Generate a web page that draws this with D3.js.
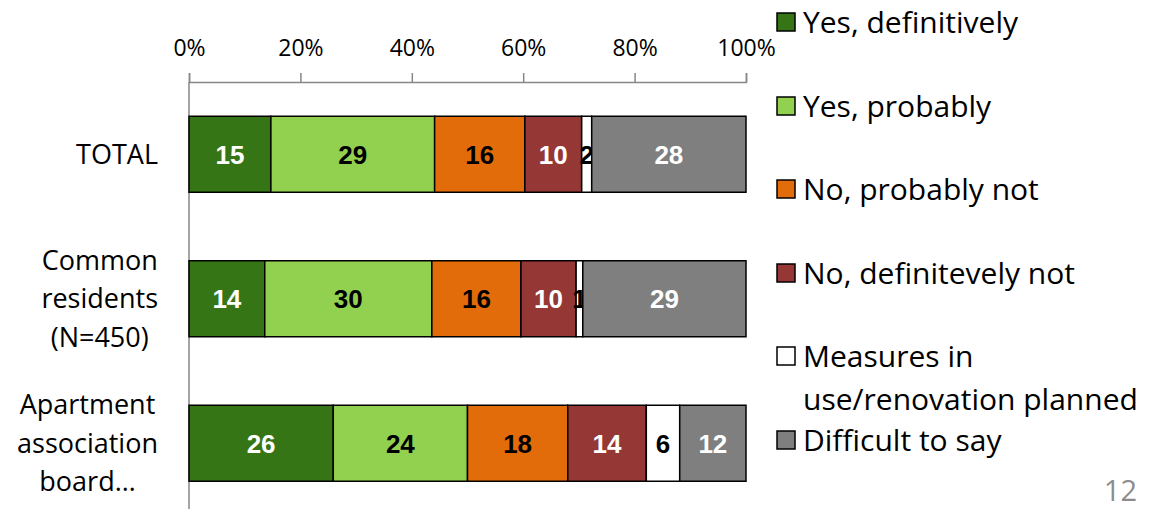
<!DOCTYPE html>
<html>
<head>
<meta charset="utf-8">
<script src="https://cdn.jsdelivr.net/npm/d3@7"></script>
<style>
  body { margin: 0; background: #fff; }
  svg { display: block; }
  .tick text { font-family: "Open Sans", sans-serif; }
</style>
</head>
<body>
<script>
// categories (rows), drawn top to bottom
var categories = ["TOTAL", "Common residents (N=450)", "Apartment association board…"];
var categoryLines = [["TOTAL"], ["Common", "residents", "(N=450)"], ["Apartment", "association", "board…"]];

// answer series, in stacking order
var seriesNames = ["Yes, definitively", "Yes, probably", "No, probably not",
                   "No, definitevely not", "Measures in use/renovation planned", "Difficult to say"];
var seriesColors = ["#367516", "#92d050", "#e36c0a", "#953735", "#ffffff", "#7f7f7f"];
var labelColors = ["#fff", "#000", "#000", "#fff", "#000", "#fff"];

// values per series (%), one per category; labels show them rounded
var yesDef    = [14.7, 13.6, 25.9];
var yesProb   = [29.4, 30.0, 24.1];
var noProb    = [16.2, 16.0, 18.0];
var noDef     = [10.2,  9.9, 14.1];
var measures  = [ 1.8,  1.2,  6.0];
var difficult = [27.7, 29.3, 11.9];
var seriesValues = [yesDef, yesProb, noProb, noDef, measures, difficult];

var tickValues = [0, 20, 40, 60, 80, 100];

var width = 1157, height = 509;

var svg = d3.select("body").append("svg")
    .attr("width", width)
    .attr("height", height);

var x = d3.scaleLinear().domain([0, 100]).range([189, 746]);
var y = d3.scaleBand().domain(categories).range([82, 515.5])
    .paddingInner(0.474).paddingOuter(0.237);

// build stacked rows from the arrays
var rows = categories.map(function(c, i) {
  var row = { cat: c };
  seriesNames.forEach(function(s, j) { row[s] = seriesValues[j][i]; });
  return row;
});
var stacked = d3.stack().keys(seriesNames)(rows);

// top axis
var xAxis = svg.append("g")
    .attr("transform", "translate(0,82)")
    .call(d3.axisTop(x).tickValues(tickValues).tickSize(9).tickPadding(17)
      .tickFormat(function(d) { return d + "%"; }));
xAxis.select(".domain").attr("stroke", "#878787").attr("stroke-width", 1.5);
xAxis.selectAll(".tick line").attr("stroke", "#878787").attr("stroke-width", 1.5);
xAxis.selectAll(".tick text").attr("font-size", 23).attr("fill", "#000");

// vertical axis line
svg.append("line")
    .attr("x1", x(0)).attr("x2", x(0))
    .attr("y1", 82).attr("y2", height)
    .attr("stroke", "#878787").attr("stroke-width", 1.5);

// bars
var groups = svg.selectAll("g.series")
    .data(stacked)
    .enter().append("g")
    .attr("class", "series")
    .attr("fill", function(d, i) { return seriesColors[i]; });

groups.selectAll("rect")
    .data(function(d) { return d; })
    .enter().append("rect")
    .attr("x", function(d) { return x(d[0]); })
    .attr("y", function(d) { return y(d.data.cat); })
    .attr("width", function(d) { return x(d[1]) - x(d[0]); })
    .attr("height", y.bandwidth())
    .attr("stroke", "#000")
    .attr("stroke-width", 1.5);

// value labels
groups.selectAll("text")
    .data(function(d, i) { return d.map(function(p) { p.si = i; return p; }); })
    .enter().append("text")
    .attr("x", function(d) { return (x(d[0]) + x(d[1])) / 2; })
    .attr("y", function(d) { return y(d.data.cat) + y.bandwidth() / 2; })
    .attr("dy", "0.36em")
    .attr("text-anchor", "middle")
    .attr("font-family", "'Liberation Sans', Arial, sans-serif")
    .attr("font-weight", "bold")
    .attr("font-size", 26)
    .attr("fill", function(d) { return labelColors[d.si]; })
    .text(function(d) { return Math.round(d[1] - d[0]); });

// category labels: block right-aligned at the axis, lines centred within the block
var catText = svg.selectAll("text.cat")
    .data(categories)
    .enter().append("text")
    .attr("class", "cat")
    .attr("text-anchor", "middle")
    .attr("font-family", "'Open Sans', sans-serif")
    .attr("font-size", 27)
    .attr("fill", "#000");

catText.each(function(c, i) {
  var lines = categoryLines[i];
  var cy = y(c) + y.bandwidth() / 2;
  var lh = 38.5;
  var spans = d3.select(this).selectAll("tspan")
    .data(lines)
    .enter().append("tspan")
    .attr("y", function(l, k) { return cy + (k - (lines.length - 1) / 2) * lh; })
    .attr("dy", "0.35em")
    .text(function(l) { return l; });
  var maxW = d3.max(spans.nodes(), function(n) { return n.getComputedTextLength(); });
  spans.attr("x", 158 - maxW / 2);
});

// legend
var legendY = [22, 106, 189, 273, 356, 440];
var legend = svg.selectAll("g.legend")
    .data(seriesNames)
    .enter().append("g")
    .attr("class", "legend")
    .attr("transform", function(d, i) { return "translate(777," + legendY[i] + ")"; });

legend.append("rect")
    .attr("x", 0).attr("y", -9)
    .attr("width", 18).attr("height", 18)
    .attr("fill", function(d, i) { return seriesColors[i]; })
    .attr("stroke", "#000").attr("stroke-width", 1.5);

legend.append("text")
    .attr("x", 26)
    .attr("font-family", "'Open Sans', sans-serif")
    .attr("font-size", 30)
    .attr("fill", "#000")
    .each(function(d, i) {
      var parts = i === 4 ? ["Measures in", "use/renovation planned"] : [d];
      d3.select(this).selectAll("tspan")
        .data(parts)
        .enter().append("tspan")
        .attr("x", 26)
        .attr("y", function(p, k) { return k * 43; })
        .attr("dy", "0.35em")
        .text(function(p) { return p; });
    });

// page number
svg.append("text")
    .attr("x", 1137).attr("y", 501)
    .attr("text-anchor", "end")
    .attr("font-family", "'Open Sans', sans-serif")
    .attr("font-size", 29)
    .attr("fill", "#8c8c8c")
    .text("12");
</script>
</body>
</html>
